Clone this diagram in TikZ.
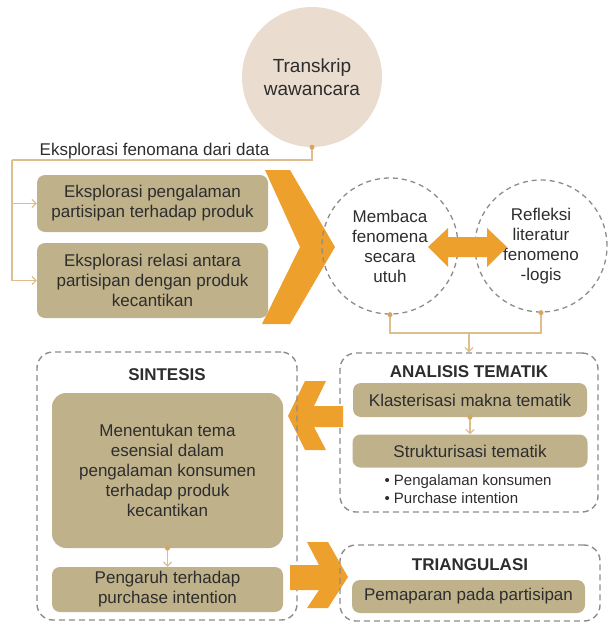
\documentclass[tikz,border=0pt]{standalone}
\usepackage{fontspec}
\setsansfont{Liberation Sans}
\usetikzlibrary{arrows.meta}

\definecolor{khaki}{RGB}{191,177,138}
\definecolor{tanfill}{RGB}{234,221,207}
\definecolor{orng}{RGB}{238,160,45}
\definecolor{frameg}{RGB}{140,140,140}
\definecolor{linkc}{RGB}{222,190,140}
\definecolor{dotc}{RGB}{214,165,95}
\definecolor{ink}{RGB}{45,45,45}

\begin{document}
\begin{tikzpicture}[
    x=1pt, y=-1pt,
    font=\sffamily\fontsize{17}{20}\selectfont,
    % Style for the filled khaki boxes
    stepbox/.style={
        fill=khaki, rounded corners=8pt, align=center,
        inner sep=0pt, text=ink
    },
    % Style for the dashed group frames
    frame/.style={
        draw=frameg, line width=1.4pt, dash pattern=on 6pt off 4pt,
        rounded corners=16pt, inner sep=0pt
    },
    % Style for the dashed circles
    ring/.style={
        circle, draw=frameg, line width=1.3pt, dash pattern=on 5pt off 4pt,
        inner sep=0pt, align=center, text=ink
    },
    % Thin connectors
    link/.style={draw=linkc, line width=1.2pt},
    tip/.style={-{Straight Barb[length=4pt, width=8pt]}},
    dot/.style={circle, fill=dotc, inner sep=0pt, minimum size=5pt},
    heading/.style={font=\sffamily\bfseries\fontsize{17}{20}\selectfont, text=ink}
]
\useasboundingbox (0,0) rectangle (608,626);

% --- Top: transcript ---
\node[circle, fill=tanfill, minimum size=140pt, inner sep=0pt, align=center, text=ink,
      font=\sffamily\fontsize{19}{23}\selectfont] (trans) at (312,77) {Transkrip\\wawancara};
\node[anchor=base, text=ink] (explabel) at (154.5,155) {Eksplorasi fenomana dari data};
\coordinate (corner) at (12,160);

% --- Exploration boxes ---
\node[stepbox, minimum width=231pt, minimum height=57pt] (exp1) at (152.5,203.5)
    {Eksplorasi pengalaman\\partisipan terhadap produk};
\node[stepbox, minimum width=231pt, minimum height=75pt] (exp2) at (152.5,280.5)
    {Eksplorasi relasi antara\\partisipan dengan produk\\kecantikan};

\draw[link] (trans.south) |- (corner);
\draw[link, tip] (corner) |- (exp1.west);
\draw[link, tip] (corner) |- (exp2.west);
\node[dot] at (trans.south) {};

% --- Big chevron ---
\fill[orng] (265,170) -- (290,170) -- (335,247) -- (290,324) -- (262,324) -- (300,247) -- cycle;

% --- Reading circles ---
\node[ring, minimum size=136pt] (baca) at (390,246) {Membaca\\fenomena\\secara\\utuh};
\node[ring, minimum size=132pt] (refl) at (541,246) {Refleksi\\literatur\\fenomeno\\-logis};

% double arrow between the circles
\fill[orng] (428,247) -- (448,228) -- (448,237) -- (487,237) -- (487,228) -- (507,247)
    -- (487,267) -- (487,257) -- (448,257) -- (448,267) -- cycle;

% --- Thematic analysis ---
\node[frame, minimum width=258pt, minimum height=159pt] (anal) at (469,432.5) {};
\node[heading] (analtitle) at (469,372) {ANALISIS TEMATIK};
\node[stepbox, minimum width=234pt, minimum height=34pt] (klas) at (470,400) {Klasterisasi makna tematik};
\node[stepbox, minimum width=235pt, minimum height=33pt] (stru) at (470,451) {Strukturisasi tematik};
\node[anchor=west, align=left, text=ink, font=\sffamily\fontsize{15}{18}\selectfont] (bullets) at (381,489)
    {\textbullet\ Pengalaman konsumen\\\textbullet\ Purchase intention};

\coordinate (merge) at (469,333);
\draw[link] (baca.south) |- (merge) -| (refl.south);
\draw[link, tip] (merge) -- (anal.north);
\node[dot] at (baca.south) {};
\node[dot] at (refl.south) {};

\draw[link, tip] (klas.south) -- (stru.north);
\node[dot] at (klas.south) {};

% --- Arrow to synthesis ---
\fill[orng] (343,406) -- (314,406) -- (326,381) -- (305,381) -- (288,416) -- (305,450)
    -- (326,450) -- (314,427) -- (343,427) -- cycle;

% --- Synthesis ---
\node[frame, minimum width=260pt, minimum height=268pt] (sint) at (167,486) {};
\node[heading] (sinttitle) at (167,375) {SINTESIS};
\node[stepbox, minimum width=231pt, minimum height=155pt, rounded corners=14pt] (ment) at (167.5,470.5)
    {Menentukan tema\\esensial dalam\\pengalaman konsumen\\terhadap produk\\kecantikan};
\node[stepbox, minimum width=231pt, minimum height=45pt] (peng) at (167.5,589.5)
    {Pengaruh terhadap\\purchase intention};
\draw[link, tip] (ment.south) -- (peng.north);
\node[dot] at (ment.south) {};

% --- Arrow to triangulation ---
\fill[orng] (290,565) -- (319,565) -- (307,542) -- (328,542) -- (348,577) -- (328,608)
    -- (307,608) -- (319,590) -- (290,590) -- cycle;

% --- Triangulation ---
\node[frame, minimum width=260pt, minimum height=76pt] (tri) at (470,583) {};
\node[heading] (trititle) at (470,565) {TRIANGULASI};
\node[stepbox, minimum width=233pt, minimum height=33pt] (pema) at (468.5,596.5) {Pemaparan pada partisipan};

\end{tikzpicture}
\end{document}
